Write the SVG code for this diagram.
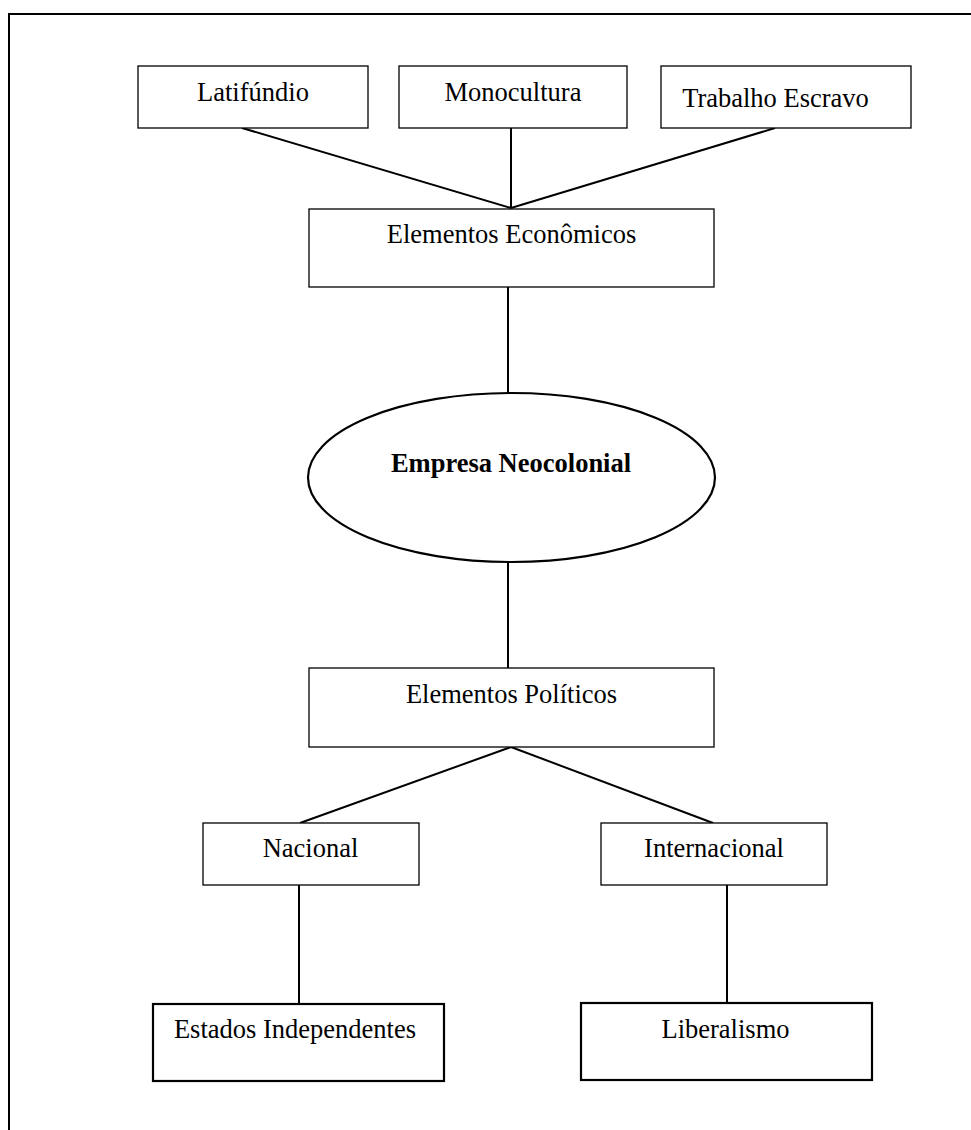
<svg xmlns="http://www.w3.org/2000/svg" width="971" height="1130" viewBox="0 0 971 1130">
<style>
.box{fill:#fff;stroke:#000;stroke-width:1.3}
.thick{fill:#fff;stroke:#000;stroke-width:2.2}
.t{font-family:"Liberation Serif","Times New Roman",serif;font-size:26.5px;fill:#000;text-anchor:middle}
.b{font-weight:bold}
.c{stroke:#000;stroke-width:2;fill:none}
</style>
<rect width="971" height="1130" fill="#fff"/>
<g id="frame" class="c"><path d="M9,1130 V14 H971"/></g>
<g id="connectors" class="c">
<line x1="242" y1="128" x2="511" y2="208"/>
<line x1="511" y1="128" x2="511" y2="208"/>
<line x1="775" y1="128" x2="511" y2="208"/>
<line x1="508" y1="287" x2="508" y2="393"/>
<line x1="508" y1="562" x2="508" y2="668"/>
<line x1="511" y1="747" x2="300" y2="823"/>
<line x1="511" y1="747" x2="713" y2="823"/>
<line x1="299" y1="885" x2="299" y2="1004"/>
<line x1="727" y1="885" x2="727" y2="1003"/>
</g>
<g id="latifundio"><rect class="box" x="138" y="66" width="230" height="62"/><text class="t" x="253" y="101">Latifúndio</text></g>
<g id="monocultura"><rect class="box" x="399" y="66" width="228" height="62"/><text class="t" x="513" y="101">Monocultura</text></g>
<g id="trabalho"><rect class="box" x="661" y="66" width="250" height="62"/><text class="t" x="775.5" y="107">Trabalho Escravo</text></g>
<g id="economicos"><rect class="box" x="309" y="209" width="405" height="78"/><text class="t" x="511.5" y="243">Elementos Econômicos</text></g>
<g id="empresa"><ellipse class="thick" cx="511.5" cy="477.5" rx="203.5" ry="84.5"/><text class="t b" x="511" y="472">Empresa Neocolonial</text></g>
<g id="politicos"><rect class="box" x="309" y="668" width="405" height="79"/><text class="t" x="511.5" y="703">Elementos Políticos</text></g>
<g id="nacional"><rect class="box" x="203" y="823" width="216" height="62"/><text class="t" x="310.5" y="857">Nacional</text></g>
<g id="internacional"><rect class="box" x="601" y="823" width="226" height="62"/><text class="t" x="714" y="857">Internacional</text></g>
<g id="estados"><rect class="thick" x="153" y="1004" width="291" height="77"/><text class="t" x="295" y="1038">Estados Independentes</text></g>
<g id="liberalismo"><rect class="thick" x="581" y="1003" width="291" height="77"/><text class="t" x="725.5" y="1038">Liberalismo</text></g>
</svg>
